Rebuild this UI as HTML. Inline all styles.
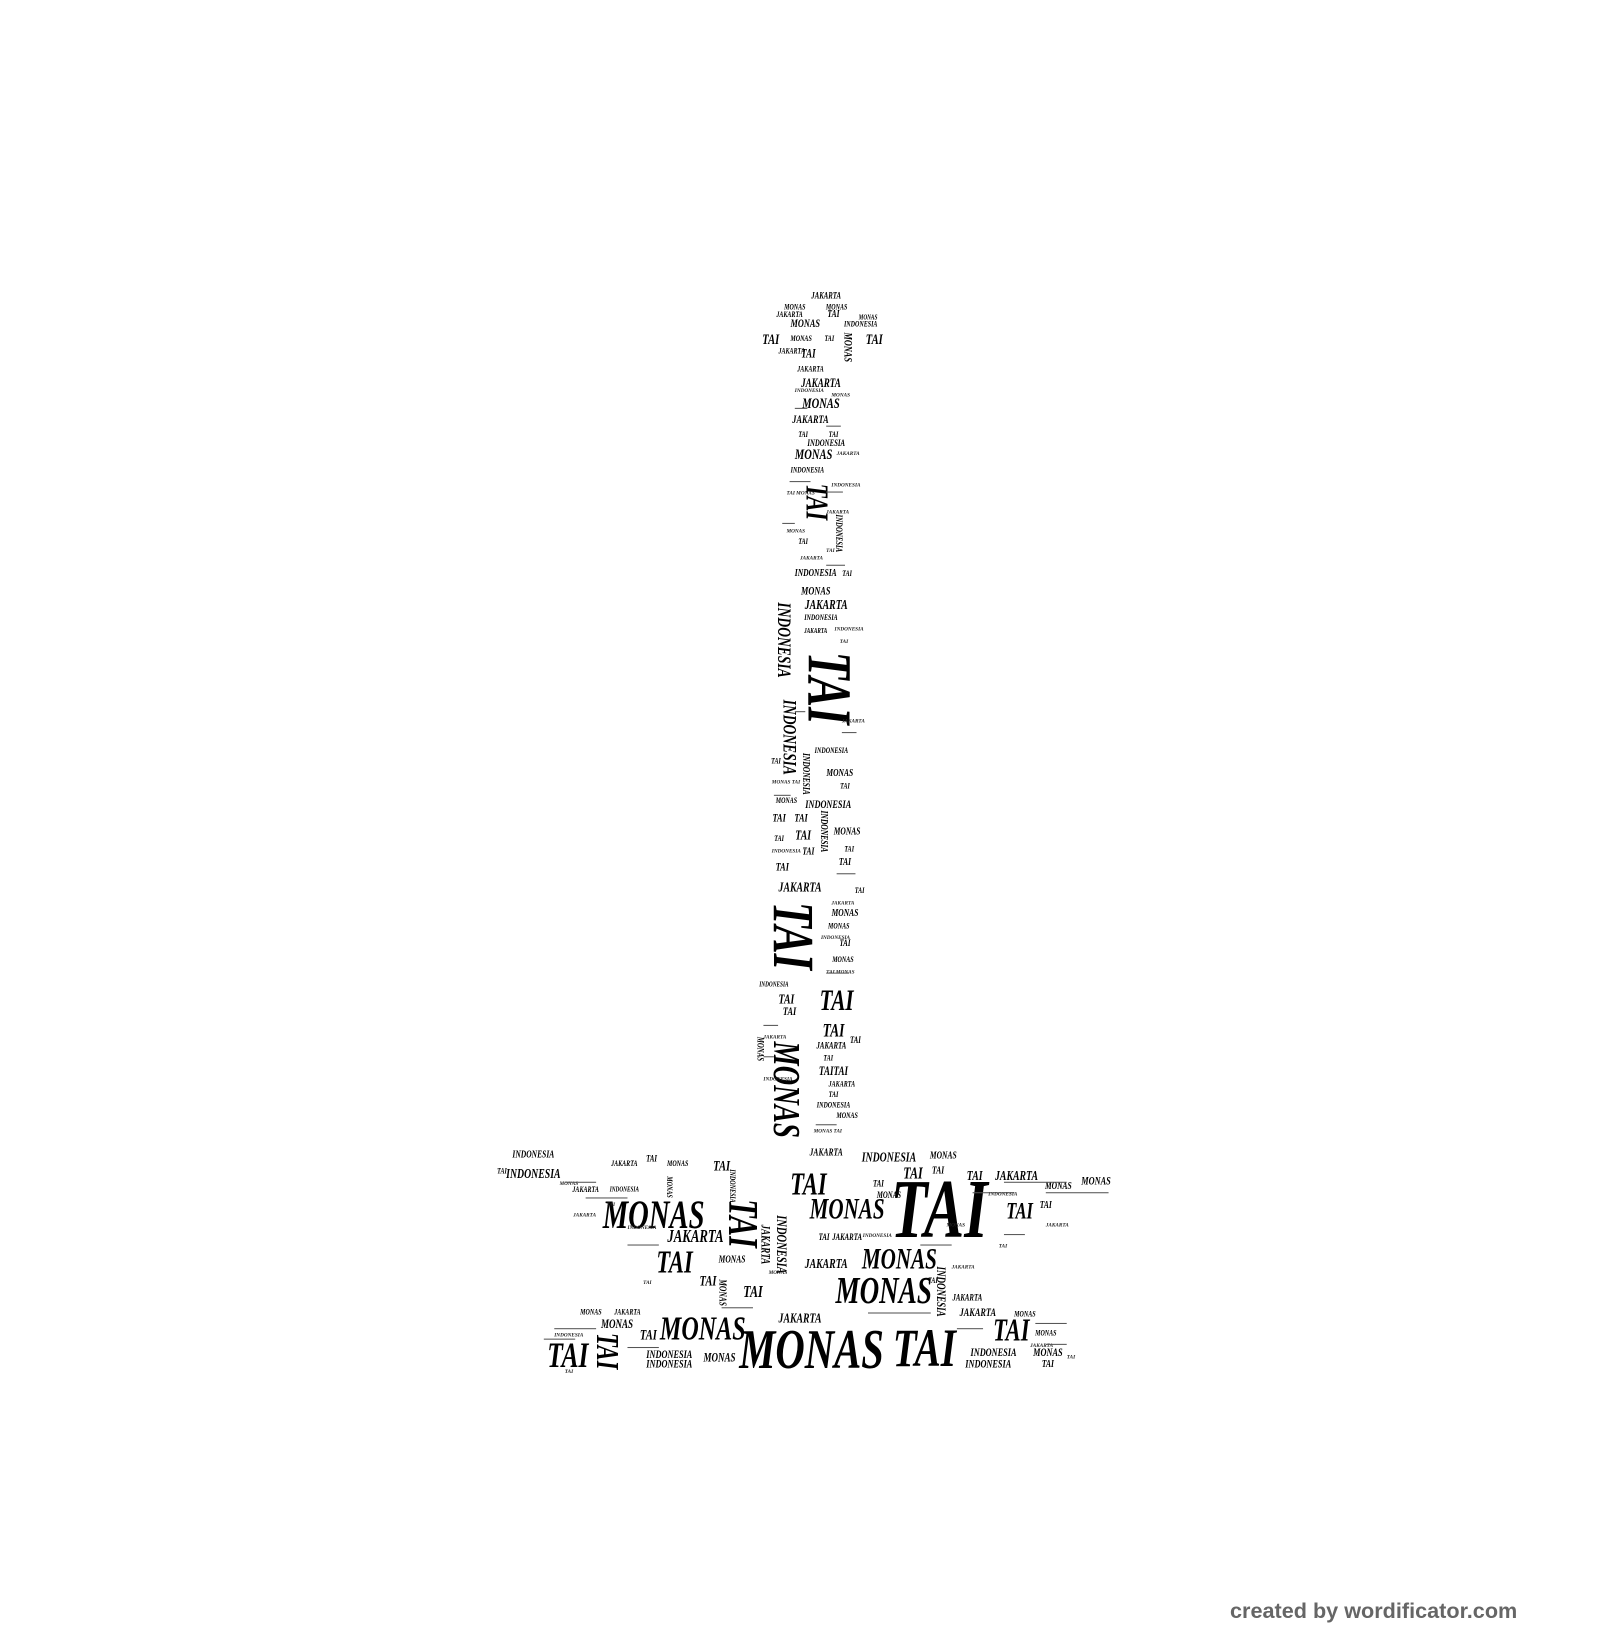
<!DOCTYPE html>
<html><head><meta charset="utf-8">
<style>
html,body{margin:0;padding:0;background:#fff;width:1600px;height:1640px;overflow:hidden}
#s{position:absolute;left:0;top:0;width:1530px;height:1568px;transform:scale(1.0458);transform-origin:0 0}
.w{position:absolute;font-family:"Liberation Serif",serif;font-weight:bold;font-style:italic;white-space:nowrap;line-height:1;color:#000;transform:translate(-50%,-50%) scaleX(.72)}
.r{transform:translate(-50%,-50%) rotate(90deg) scaleX(.72)}
.d{position:absolute;height:1px;background:#555}
.t{position:absolute;font-family:"Liberation Serif",serif;font-weight:bold;font-style:italic;font-size:5px;line-height:1;white-space:nowrap;color:#222}
#c{position:absolute;left:1230px;top:1600px;font:bold 21px "Liberation Sans",sans-serif;color:#666;transform:scaleX(1.03);transform-origin:0 0}
</style></head><body>
<div id="s">
<!-- top cap -->
<div class="w" style="left:790px;top:283px;font-size:9px">JAKARTA</div>
<div class="w" style="left:760px;top:294px;font-size:8px">MONAS</div>
<div class="w" style="left:800px;top:294px;font-size:8px">MONAS</div>
<div class="w" style="left:755px;top:301px;font-size:8px">JAKARTA</div>
<div class="w" style="left:797px;top:301px;font-size:10px">TAI</div>
<div class="w" style="left:830px;top:304px;font-size:7px">MONAS</div>
<div class="w" style="left:770px;top:310px;font-size:11px">MONAS</div>
<div class="w" style="left:823px;top:310px;font-size:8px">INDONESIA</div>
<div class="w" style="left:737px;top:326px;font-size:14px">TAI</div>
<div class="w" style="left:766px;top:324px;font-size:8px">MONAS</div>
<div class="w" style="left:793px;top:324px;font-size:8px">TAI</div>
<div class="w" style="left:836px;top:326px;font-size:14px">TAI</div>
<div class="w r" style="left:810px;top:332px;font-size:11px">MONAS</div>
<div class="w" style="left:757px;top:336px;font-size:8px">JAKARTA</div>
<div class="w" style="left:773px;top:338px;font-size:12px">TAI</div>
<div class="w" style="left:775px;top:353px;font-size:8px">JAKARTA</div>
<div class="w" style="left:785px;top:366px;font-size:12px">JAKARTA</div>
<div class="w" style="left:785px;top:387px;font-size:14px">MONAS</div>
<div class="w" style="left:775px;top:402px;font-size:11px">JAKARTA</div>
<div class="w" style="left:768px;top:416px;font-size:8px">TAI</div>
<div class="w" style="left:797px;top:416px;font-size:8px">TAI</div>
<div class="w" style="left:790px;top:424px;font-size:9px">INDONESIA</div>
<div class="w" style="left:778px;top:436px;font-size:14px">MONAS</div>
<div class="w" style="left:772px;top:450px;font-size:8px">INDONESIA</div>
<div class="w r" style="left:780px;top:480px;font-size:30px">TAI</div>
<div class="w r" style="left:802px;top:510px;font-size:9px">INDONESIA</div>
<div class="w" style="left:768px;top:518px;font-size:8px">TAI</div>
<div class="w" style="left:780px;top:549px;font-size:10px">INDONESIA</div>
<div class="w" style="left:810px;top:549px;font-size:8px">TAI</div>
<div class="w" style="left:780px;top:566px;font-size:11px">MONAS</div>
<div class="w" style="left:790px;top:578px;font-size:13px">JAKARTA</div>
<div class="w" style="left:785px;top:591px;font-size:8px">INDONESIA</div>
<div class="w" style="left:780px;top:604px;font-size:7px">JAKARTA</div>
<div class="w r" style="left:750px;top:612px;font-size:18px">INDONESIA</div>
<div class="w r" style="left:793px;top:658px;font-size:60px">TAI</div>
<div class="w r" style="left:755px;top:705px;font-size:18px">INDONESIA</div>
<div class="w" style="left:795px;top:718px;font-size:8px">INDONESIA</div>
<div class="w" style="left:742px;top:728px;font-size:8px">TAI</div>
<div class="w r" style="left:770px;top:740px;font-size:10px">INDONESIA</div>
<div class="w" style="left:803px;top:740px;font-size:10px">MONAS</div>
<div class="w" style="left:808px;top:752px;font-size:8px">TAI</div>
<div class="w" style="left:752px;top:766px;font-size:8px">MONAS</div>
<div class="w" style="left:792px;top:770px;font-size:11px">INDONESIA</div>
<div class="w" style="left:745px;top:783px;font-size:11px">TAI</div>
<div class="w" style="left:766px;top:783px;font-size:11px">TAI</div>
<div class="w r" style="left:787px;top:795px;font-size:10px">INDONESIA</div>
<div class="w" style="left:768px;top:798px;font-size:13px">TAI</div>
<div class="w" style="left:810px;top:796px;font-size:10px">MONAS</div>
<div class="w" style="left:745px;top:802px;font-size:8px">TAI</div>
<div class="w" style="left:773px;top:815px;font-size:10px">TAI</div>
<div class="w" style="left:812px;top:812px;font-size:8px">TAI</div>
<div class="w" style="left:748px;top:830px;font-size:11px">TAI</div>
<div class="w" style="left:808px;top:825px;font-size:10px">TAI</div>
<div class="w" style="left:765px;top:848px;font-size:13px">JAKARTA</div>
<div class="w" style="left:822px;top:852px;font-size:8px">TAI</div>
<div class="w r" style="left:758px;top:895px;font-size:56px">TAI</div>
<div class="w" style="left:808px;top:874px;font-size:10px">MONAS</div>
<div class="w" style="left:802px;top:886px;font-size:8px">MONAS</div>
<div class="w" style="left:808px;top:902px;font-size:9px">TAI</div>
<div class="w" style="left:806px;top:918px;font-size:8px">MONAS</div>
<div class="w" style="left:740px;top:942px;font-size:7px">INDONESIA</div>
<div class="w" style="left:800px;top:958px;font-size:28px">TAI</div>
<div class="w" style="left:752px;top:955px;font-size:13px">TAI</div>
<div class="w" style="left:755px;top:968px;font-size:11px">TAI</div>
<div class="w" style="left:797px;top:985px;font-size:18px">TAI</div>
<div class="w" style="left:818px;top:995px;font-size:9px">TAI</div>
<div class="w r" style="left:752px;top:1042px;font-size:36px">MONAS</div>
<div class="w r" style="left:727px;top:1003px;font-size:9px">MONAS</div>
<div class="w" style="left:795px;top:1000px;font-size:9px">JAKARTA</div>
<div class="w" style="left:792px;top:1012px;font-size:8px">TAI</div>
<div class="w" style="left:797px;top:1024px;font-size:12px">TAITAI</div>
<div class="w" style="left:805px;top:1037px;font-size:8px">JAKARTA</div>
<div class="w" style="left:797px;top:1047px;font-size:8px">TAI</div>
<div class="w" style="left:797px;top:1057px;font-size:8px">INDONESIA</div>
<div class="w" style="left:810px;top:1067px;font-size:8px">MONAS</div>
<!-- base -->
<div class="w" style="left:510px;top:1105px;font-size:10px">INDONESIA</div>
<div class="w" style="left:510px;top:1122px;font-size:13px">INDONESIA</div>
<div class="w" style="left:480px;top:1120px;font-size:8px">TAI</div>
<div class="w" style="left:623px;top:1108px;font-size:9px">TAI</div>
<div class="w" style="left:597px;top:1113px;font-size:8px">JAKARTA</div>
<div class="w" style="left:648px;top:1113px;font-size:8px">MONAS</div>
<div class="w" style="left:690px;top:1116px;font-size:14px">TAI</div>
<div class="w r" style="left:640px;top:1135px;font-size:8px">MONAS</div>
<div class="w r" style="left:700px;top:1134px;font-size:8px">INDONESIA</div>
<div class="w" style="left:560px;top:1138px;font-size:8px">JAKARTA</div>
<div class="w" style="left:597px;top:1138px;font-size:7px">INDONESIA</div>
<div class="w" style="left:790px;top:1103px;font-size:10px">JAKARTA</div>
<div class="w" style="left:850px;top:1106px;font-size:13px">INDONESIA</div>
<div class="w" style="left:902px;top:1106px;font-size:10px">MONAS</div>
<div class="w" style="left:773px;top:1133px;font-size:30px">TAI</div>
<div class="w" style="left:873px;top:1123px;font-size:16px">TAI</div>
<div class="w" style="left:897px;top:1120px;font-size:10px">TAI</div>
<div class="w" style="left:932px;top:1124px;font-size:13px">TAI</div>
<div class="w" style="left:972px;top:1124px;font-size:13px">JAKARTA</div>
<div class="w" style="left:1012px;top:1135px;font-size:10px">MONAS</div>
<div class="w" style="left:1048px;top:1130px;font-size:11px">MONAS</div>
<div class="w" style="left:898px;top:1157px;font-size:80px">TAI</div>
<div class="w" style="left:975px;top:1158px;font-size:22px">TAI</div>
<div class="w" style="left:1000px;top:1153px;font-size:10px">TAI</div>
<div class="w" style="left:625px;top:1162px;font-size:38px">MONAS</div>
<div class="w r" style="left:710px;top:1170px;font-size:40px">TAI</div>
<div class="w r" style="left:746px;top:1190px;font-size:14px">INDONESIA</div>
<div class="w r" style="left:732px;top:1190px;font-size:12px">JAKARTA</div>
<div class="w" style="left:810px;top:1157px;font-size:28px">MONAS</div>
<div class="w" style="left:840px;top:1132px;font-size:9px">TAI</div>
<div class="w" style="left:850px;top:1143px;font-size:9px">MONAS</div>
<div class="w" style="left:665px;top:1182px;font-size:17px">JAKARTA</div>
<div class="w" style="left:645px;top:1208px;font-size:30px">TAI</div>
<div class="w" style="left:700px;top:1205px;font-size:10px">MONAS</div>
<div class="w" style="left:790px;top:1208px;font-size:13px">JAKARTA</div>
<div class="w" style="left:860px;top:1205px;font-size:28px">MONAS</div>
<div class="w" style="left:788px;top:1183px;font-size:9px">TAI</div>
<div class="w" style="left:810px;top:1183px;font-size:9px">JAKARTA</div>
<div class="w" style="left:892px;top:1225px;font-size:8px">TAI</div>
<div class="w" style="left:677px;top:1226px;font-size:14px">TAI</div>
<div class="w r" style="left:690px;top:1236px;font-size:10px">MONAS</div>
<div class="w" style="left:720px;top:1236px;font-size:16px">TAI</div>
<div class="w" style="left:845px;top:1234px;font-size:36px">MONAS</div>
<div class="w r" style="left:900px;top:1235px;font-size:12px">INDONESIA</div>
<div class="w" style="left:925px;top:1241px;font-size:9px">JAKARTA</div>
<div class="w" style="left:565px;top:1255px;font-size:8px">MONAS</div>
<div class="w" style="left:600px;top:1255px;font-size:8px">JAKARTA</div>
<div class="w" style="left:590px;top:1266px;font-size:12px">MONAS</div>
<div class="w" style="left:672px;top:1270px;font-size:32px">MONAS</div>
<div class="w" style="left:765px;top:1260px;font-size:13px">JAKARTA</div>
<div class="w" style="left:935px;top:1256px;font-size:11px">JAKARTA</div>
<div class="w" style="left:980px;top:1257px;font-size:8px">MONAS</div>
<div class="w" style="left:967px;top:1273px;font-size:30px">TAI</div>
<div class="w" style="left:1000px;top:1275px;font-size:8px">MONAS</div>
<div class="w" style="left:543px;top:1297px;font-size:34px">TAI</div>
<div class="w r" style="left:580px;top:1292px;font-size:30px">TAI</div>
<div class="w" style="left:620px;top:1278px;font-size:14px">TAI</div>
<div class="w" style="left:640px;top:1296px;font-size:11px">INDONESIA</div>
<div class="w" style="left:640px;top:1305px;font-size:11px">INDONESIA</div>
<div class="w" style="left:688px;top:1298px;font-size:12px">MONAS</div>
<div class="w" style="left:776px;top:1290px;font-size:54px">MONAS</div>
<div class="w" style="left:884px;top:1290px;font-size:52px">TAI</div>
<div class="w" style="left:945px;top:1305px;font-size:11px">INDONESIA</div>
<div class="w" style="left:950px;top:1294px;font-size:11px">INDONESIA</div>
<div class="w" style="left:1002px;top:1294px;font-size:11px">MONAS</div>
<div class="w" style="left:1002px;top:1305px;font-size:10px">TAI</div>
<!-- tiny filler words -->
<div class="t" style="left:760px;top:372px">INDONESIA</div>
<div class="t" style="left:795px;top:376px">MONAS</div>
<div class="t" style="left:800px;top:432px">JAKARTA</div>
<div class="t" style="left:752px;top:470px">TAI MONAS</div>
<div class="t" style="left:795px;top:462px">INDONESIA</div>
<div class="t" style="left:790px;top:488px">JAKARTA</div>
<div class="t" style="left:752px;top:506px">MONAS</div>
<div class="t" style="left:790px;top:525px">TAI</div>
<div class="t" style="left:765px;top:532px">JAKARTA</div>
<div class="t" style="left:798px;top:600px">INDONESIA</div>
<div class="t" style="left:803px;top:612px">TAI</div>
<div class="t" style="left:805px;top:688px">JAKARTA</div>
<div class="t" style="left:738px;top:746px">MONAS TAI</div>
<div class="t" style="left:738px;top:812px">INDONESIA</div>
<div class="t" style="left:795px;top:862px">JAKARTA</div>
<div class="t" style="left:785px;top:895px">INDONESIA</div>
<div class="t" style="left:790px;top:928px">TAI MONAS</div>
<div class="t" style="left:730px;top:990px">JAKARTA</div>
<div class="t" style="left:730px;top:1030px">INDONESIA</div>
<div class="t" style="left:778px;top:1080px">MONAS TAI</div>
<div class="t" style="left:535px;top:1130px">MONAS</div>
<div class="t" style="left:580px;top:1150px">TAI</div>
<div class="t" style="left:548px;top:1160px">JAKARTA</div>
<div class="t" style="left:600px;top:1172px">INDONESIA</div>
<div class="t" style="left:615px;top:1225px">TAI</div>
<div class="t" style="left:735px;top:1215px">MONAS</div>
<div class="t" style="left:945px;top:1140px">INDONESIA</div>
<div class="t" style="left:1000px;top:1170px">JAKARTA</div>
<div class="t" style="left:955px;top:1190px">TAI</div>
<div class="t" style="left:905px;top:1170px">MONAS</div>
<div class="t" style="left:910px;top:1210px">JAKARTA</div>
<div class="t" style="left:825px;top:1180px">INDONESIA</div>
<div class="t" style="left:540px;top:1310px">TAI</div>
<div class="t" style="left:530px;top:1275px">INDONESIA</div>
<div class="t" style="left:1020px;top:1296px">TAI</div>
<div class="t" style="left:985px;top:1285px">JAKARTA</div>
<!-- filler dashes -->
<div class="d" style="left:760px;top:390px;width:12px"></div>
<div class="d" style="left:790px;top:407px;width:14px"></div>
<div class="d" style="left:755px;top:460px;width:20px"></div>
<div class="d" style="left:790px;top:470px;width:16px"></div>
<div class="d" style="left:748px;top:500px;width:12px"></div>
<div class="d" style="left:790px;top:540px;width:18px"></div>
<div class="d" style="left:760px;top:680px;width:10px"></div>
<div class="d" style="left:805px;top:700px;width:14px"></div>
<div class="d" style="left:740px;top:760px;width:16px"></div>
<div class="d" style="left:800px;top:835px;width:18px"></div>
<div class="d" style="left:790px;top:930px;width:22px"></div>
<div class="d" style="left:730px;top:980px;width:14px"></div>
<div class="d" style="left:730px;top:1010px;width:10px"></div>
<div class="d" style="left:780px;top:1075px;width:20px"></div>
<div class="d" style="left:540px;top:1130px;width:30px"></div>
<div class="d" style="left:560px;top:1145px;width:40px"></div>
<div class="d" style="left:600px;top:1190px;width:30px"></div>
<div class="d" style="left:930px;top:1140px;width:40px"></div>
<div class="d" style="left:960px;top:1130px;width:60px"></div>
<div class="d" style="left:1000px;top:1140px;width:60px"></div>
<div class="d" style="left:960px;top:1180px;width:20px"></div>
<div class="d" style="left:880px;top:1190px;width:30px"></div>
<div class="d" style="left:690px;top:1250px;width:30px"></div>
<div class="d" style="left:830px;top:1255px;width:60px"></div>
<div class="d" style="left:530px;top:1270px;width:40px"></div>
<div class="d" style="left:520px;top:1280px;width:30px"></div>
<div class="d" style="left:990px;top:1265px;width:30px"></div>
<div class="d" style="left:1000px;top:1285px;width:20px"></div>
<div class="d" style="left:600px;top:1288px;width:30px"></div>
<div class="d" style="left:915px;top:1270px;width:25px"></div>
</div>
<div id="c">created by wordificator.com</div>
</body></html>
